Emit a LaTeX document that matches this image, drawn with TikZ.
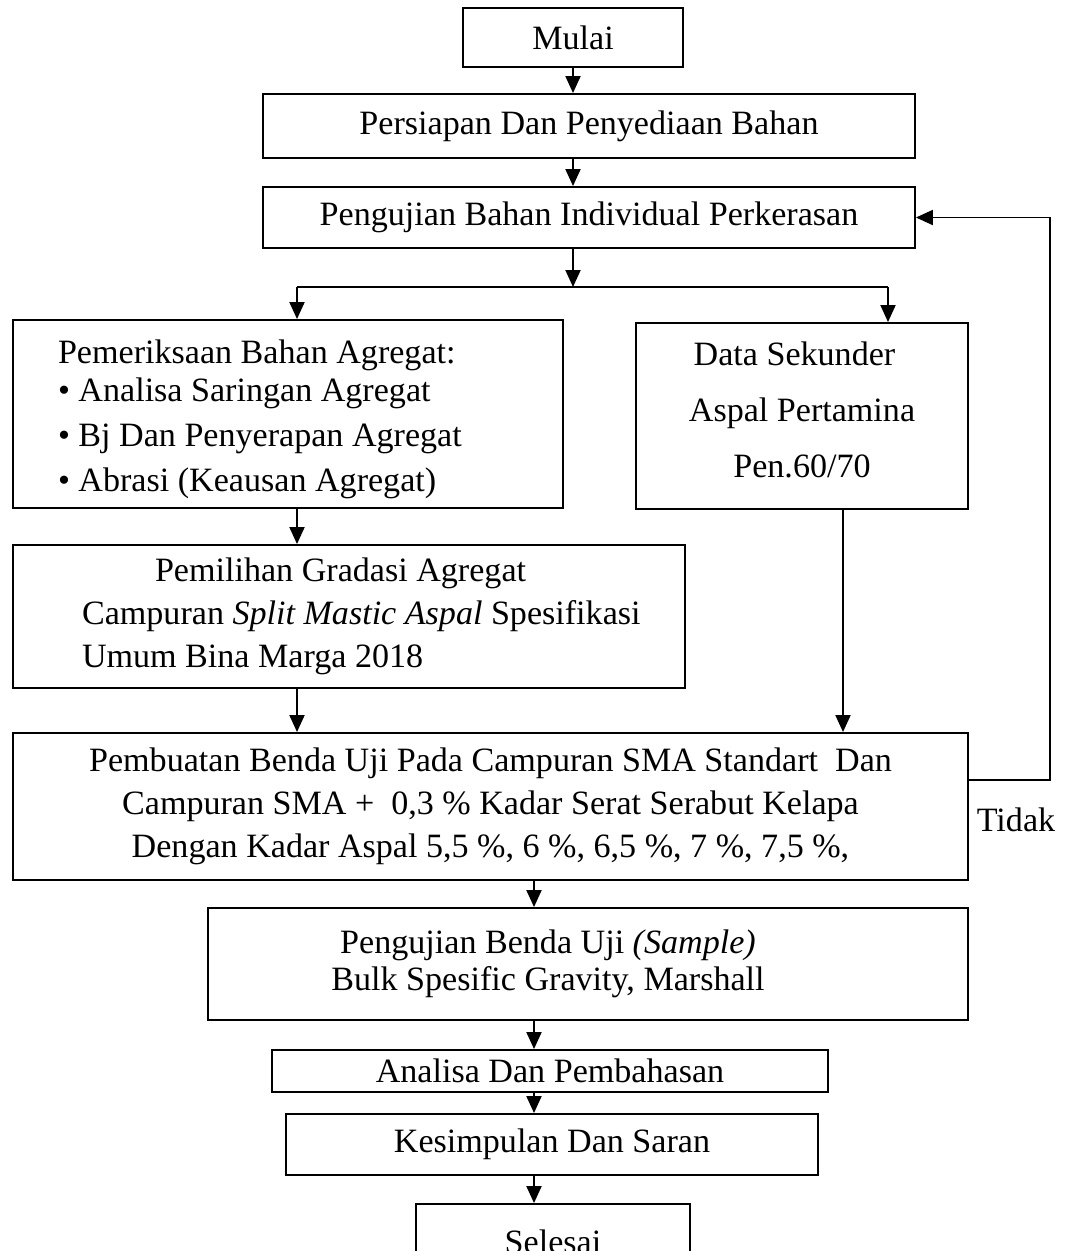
\documentclass[tikz,border=0pt]{standalone}
\usepackage{fontspec}
\setmainfont{Liberation Serif}
\usetikzlibrary{arrows.meta}

\begin{document}
\begin{tikzpicture}[x=0.02cm, y=-0.02cm,
    font=\fontsize{19.4}{24.5}\selectfont,
    box/.style={draw, line width=1.1pt, inner sep=0pt},
    arr/.style={line width=1.1pt, -{Triangle[length=0.34cm, width=0.3cm]}},
    line/.style={line width=1.1pt}]
            \useasboundingbox (0, 0) rectangle (1065, 1251);
            \clip (0, 0) rectangle (1065, 1251);

            % Top boxes
            \node[box, minimum width=4.4cm, minimum height=1.18cm] (mulai) at (573, 37.5) {Mulai};
            \node[box, minimum width=13.04cm, minimum height=1.28cm] (persiapan) at (589, 126) {Persiapan Dan Penyediaan Bahan};
            \node[box, minimum width=13.04cm, minimum height=1.22cm] (pengujian) at (589, 217.5) {Pengujian Bahan Individual Perkerasan};

            % Two branches
            \node[box, minimum height=3.76cm, inner xsep=0.9cm, text width=9.2cm, align=flush left,
                font=\fontsize{19.4}{25.6}\selectfont] (pemeriksaan) at (288, 414)
                {\strut\\[-0.84cm]
                 Pemeriksaan Bahan Agregat:\\[-0.14cm]
                 \textbullet\ Analisa Saringan Agregat\\
                 \textbullet\ Bj Dan Penyerapan Agregat\\
                 \textbullet\ Abrasi (Keausan Agregat)};
            \node[box, minimum width=6.64cm, minimum height=3.72cm, align=center,
                font=\fontsize{19.4}{31.9}\selectfont] (sekunder) at (802, 416)
                {Data Sekunder\hspace*{0.3cm}\\ Aspal Pertamina\\ Pen.60/70\\[-0.85cm]\mbox{}};
            \node[box, minimum height=2.86cm, inner xsep=0.52cm, text width=12.4cm, align=flush left] (pemilihan) at (349, 616.5)
                {\hspace*{2.32cm}Pemilihan Gradasi Agregat\\
                 \hspace*{0.86cm}Campuran \textit{Split Mastic Aspal} Spesifikasi\\
                 \hspace*{0.86cm}Umum Bina Marga 2018};

            % Lower boxes
            \node[box, minimum width=19.1cm, minimum height=2.94cm, align=center] (pembuatan) at (490.5, 806.5)
                {Pembuatan Benda Uji Pada Campuran SMA Standart~ Dan\\
                 Campuran SMA +~ 0,3 \% Kadar Serat Serabut Kelapa\\
                 Dengan Kadar Aspal 5,5 \%, 6 \%, 6,5 \%, 7 \%, 7,5 \%,};
            \node[box, minimum width=15.2cm, minimum height=2.24cm, align=center,
                font=\fontsize{19.4}{21}\selectfont] (sampel) at (588, 964)
                {Pengujian Benda Uji \textit{(Sample)}\hspace*{1.6cm}\\
                 Bulk Spesific Gravity, Marshall\hspace*{1.6cm}};
            \node[box, minimum width=11.12cm, minimum height=0.84cm] (analisa) at (550, 1071) {Analisa Dan Pembahasan};
            \node[box, minimum width=10.64cm, minimum height=1.22cm] (kesimpulan) at (552, 1144.5) {Kesimpulan Dan Saran};
            \node[box, minimum width=5.48cm, minimum height=1.5cm] (selesai) at (553, 1241.5) {Selesai};

            \node (tidak) at (1016, 820) {Tidak};

            % Guide points for the arrows
            \coordinate (split) at (573, 287);
            \coordinate (lft) at (297, 287);
            \coordinate (rgt) at (888, 287);
            \coordinate (aspal) at (843, 0);
            \coordinate (axis) at (534, 0);
            \coordinate (back) at (1050, 780);

            % Arrows
            \draw[arr] (split |- mulai.south) -- (split |- persiapan.north);
            \draw[arr] (split |- persiapan.south) -- (split |- pengujian.north);
            \draw[arr] (split |- pengujian.south) -- (split);
            \draw[line] (lft) -- (rgt);
            \draw[arr] (lft) -- (lft |- pemeriksaan.north);
            \draw[arr] (rgt) -- (rgt |- sekunder.north);
            \draw[arr] (lft |- pemeriksaan.south) -- (lft |- pemilihan.north);
            \draw[arr] (lft |- pemilihan.south) -- (lft |- pembuatan.north);
            \draw[arr] (aspal |- sekunder.south) -- (aspal |- pembuatan.north);

            % Back to testing
            \draw[arr] (back -| pembuatan.east) -- (back) |- (pengujian.east);

            \draw[arr] (axis |- pembuatan.south) -- (axis |- sampel.north);
            \draw[arr] (axis |- sampel.south) -- (axis |- analisa.north);
            \draw[arr] (axis |- analisa.south) -- (axis |- kesimpulan.north);
            \draw[arr] (axis |- kesimpulan.south) -- (axis |- selesai.north);

        \end{tikzpicture}
\end{document}
